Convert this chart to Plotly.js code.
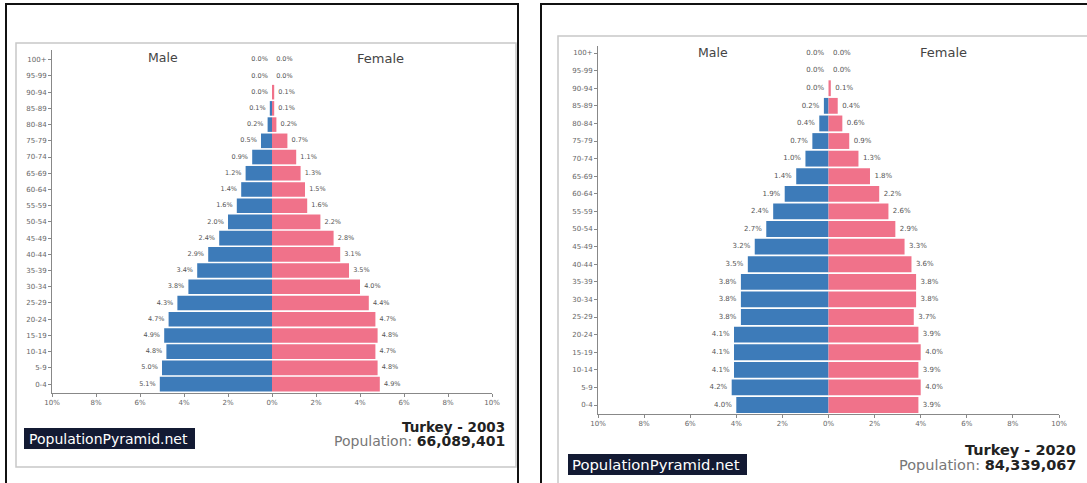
<!DOCTYPE html>
<html>
<head>
<meta charset="utf-8">
<script src="https://cdn.plot.ly/plotly-3.0.1.min.js"></script>
<style>html,body{margin:0;padding:0;background:#fff;}#chart{width:1087px;height:483px;}</style>
</head>
<body>
<div id="chart"></div>
<script>
// ---- Data (percent of total population) ----
const ageGroups = ["0-4","5-9","10-14","15-19","20-24","25-29","30-34","35-39","40-44","45-49","50-54","55-59","60-64","65-69","70-74","75-79","80-84","85-89","90-94","95-99","100+"];
const male2003   = [5.1,5.0,4.8,4.9,4.7,4.3,3.8,3.4,2.9,2.4,2.0,1.6,1.4,1.2,0.9,0.5,0.2,0.1,0.0,0.0,0.0];
const female2003 = [4.9,4.8,4.7,4.8,4.7,4.4,4.0,3.5,3.1,2.8,2.2,1.6,1.5,1.3,1.1,0.7,0.2,0.1,0.1,0.0,0.0];
const male2020   = [4.0,4.2,4.1,4.1,4.1,3.8,3.8,3.8,3.5,3.2,2.7,2.4,1.9,1.4,1.0,0.7,0.4,0.2,0.0,0.0,0.0];
const female2020 = [3.9,4.0,3.9,4.0,3.9,3.7,3.8,3.8,3.6,3.3,2.9,2.6,2.2,1.8,1.3,0.9,0.6,0.4,0.1,0.0,0.0];
const xTickVals  = [-10,-8,-6,-4,-2,0,2,4,6,8,10];
const xTickText  = ["10%","8%","6%","4%","2%","0%","2%","4%","6%","8%","10%"];
const panels = [
  {country:"Turkey", year:"2003", population:"66,089,401"},
  {country:"Turkey", year:"2020", population:"84,339,067"}
];

const W = 1087, H = 483;
const px = x => x / W;
const py = y => 1 - y / H;
const BLUE = "#3d7bb9", PINK = "#f0728a";
const FONT = "DejaVu Sans";
const fmt = v => v.toFixed(1) + "%";

function traces(male, female, xa, ya, fs) {
  const common = {type:"bar", orientation:"h", y:ageGroups, xaxis:xa, yaxis:ya, hoverinfo:"skip", showlegend:false};
  const tf = {family:FONT, size:fs, color:"#555"};
  return [
    Object.assign({x:male.map(v=>-v), marker:{color:BLUE, line:{width:0}}}, common),
    Object.assign({x:female, marker:{color:PINK, line:{width:0}}}, common),
    {type:"scatter", mode:"text", y:ageGroups, x:male.map(v=>-v), text:male.map(v=>fmt(v)+"  "),
     textposition:"middle left", textfont:tf, cliponaxis:false, xaxis:xa, yaxis:ya, hoverinfo:"skip", showlegend:false},
    {type:"scatter", mode:"text", y:ageGroups, x:female, text:female.map(v=>"  "+fmt(v)),
     textposition:"middle right", textfont:tf, cliponaxis:false, xaxis:xa, yaxis:ya, hoverinfo:"skip", showlegend:false}
  ];
}

const data = [
  ...traces(male2003, female2003, "x", "y", 6.5),
  ...traces(male2020, female2020, "x2", "y2", 7)
];

function xAxis(d0, d1, anchor, fs) {
  return {domain:[px(d0), px(d1)], range:[-10,10], anchor:anchor, tickvals:xTickVals, ticktext:xTickText,
    showgrid:false, zeroline:false, showline:true, linecolor:"#888", linewidth:1,
    ticks:"outside", ticklen:3, tickcolor:"#888", tickfont:{family:FONT, size:fs, color:"#666"}, fixedrange:true};
}
function yAxis(top, bottom, anchor, range, fs) {
  return {domain:[py(bottom), py(top)], type:"category", range:range, anchor:anchor,
    showgrid:false, zeroline:false, showline:true, linecolor:"#888", linewidth:1,
    ticks:"outside", ticklen:3, tickcolor:"#888", tickfont:{family:FONT, size:fs, color:"#666"}, fixedrange:true};
}

function rect(x0, y0, x1, y1, line, fill) {
  return {type:"rect", xref:"paper", yref:"paper", x0:px(x0), x1:px(x1), y0:py(y0), y1:py(y1),
    line:line, fillcolor:fill || "rgba(0,0,0,0)", layer:"above"};
}

const shapes = [
  rect(6, 4, 518, 495, {color:"#111", width:2}),
  rect(541, 4, 1100, 495, {color:"#111", width:2}),
  rect(16, 43, 516, 467, {color:"#c8c8c8", width:1.5}),
  rect(558, 36, 1100, 500, {color:"#c8c8c8", width:1.5}),
  rect(24, 428, 195, 449, {width:0}, "#131a33"),
  rect(568, 454, 747, 475, {width:0}, "#131a33")
];

function ann(x, y, text, size, opts) {
  return Object.assign({xref:"paper", yref:"paper", x:px(x), y:py(y), text:text, showarrow:false,
    font:{family:FONT, size:size, color:"#444"}, xanchor:"center", yanchor:"middle"}, opts||{});
}

const annotations = [
  ann(163, 57, "Male", 12.5),
  ann(380, 58, "Female", 13),
  ann(713, 52, "Male", 12.5),
  ann(943, 53, "Female", 13),
  ann(27, 438.5, "PopulationPyramid.net", 14, {xanchor:"left", font:{family:FONT, size:14, color:"#fff"}}),
  ann(570, 464.5, "PopulationPyramid.net", 14.8, {xanchor:"left", font:{family:FONT, size:14.8, color:"#fff"}}),
  ann(507, 426.5, "<b>" + panels[0].country + " - " + panels[0].year + "</b>", 13.5, {xanchor:"right", font:{family:FONT, size:13.5, color:"#222"}}),
  ann(507, 440.5, "<span style='color:#777'>Population:</span> <b>" + panels[0].population + "</b>", 14, {xanchor:"right", font:{family:FONT, size:14, color:"#222"}}),
  ann(1078, 450, "<b>" + panels[1].country + " - " + panels[1].year + "</b>", 14.5, {xanchor:"right", font:{family:FONT, size:14.5, color:"#222"}}),
  ann(1078, 465, "<span style='color:#777'>Population:</span> <b>" + panels[1].population + "</b>", 14.5, {xanchor:"right", font:{family:FONT, size:14.5, color:"#222"}})
];

const layout = {
  width:W, height:H, margin:{l:0, r:0, t:0, b:0},
  paper_bgcolor:"#fff", plot_bgcolor:"#fff",
  barmode:"relative", bargap:0.1,
  font:{family:FONT},
  xaxis: xAxis(52, 492, "y", 7),
  yaxis: yAxis(50, 393, "x", [-0.55, 20.6], 7),
  xaxis2: xAxis(598, 1059, "y2", 7),
  yaxis2: yAxis(46, 414, "x2", [-0.51, 20.4], 7),
  shapes: shapes,
  annotations: annotations
};

Plotly.newPlot("chart", data, layout, {displayModeBar:false, staticPlot:true});
</script>
</body>
</html>
